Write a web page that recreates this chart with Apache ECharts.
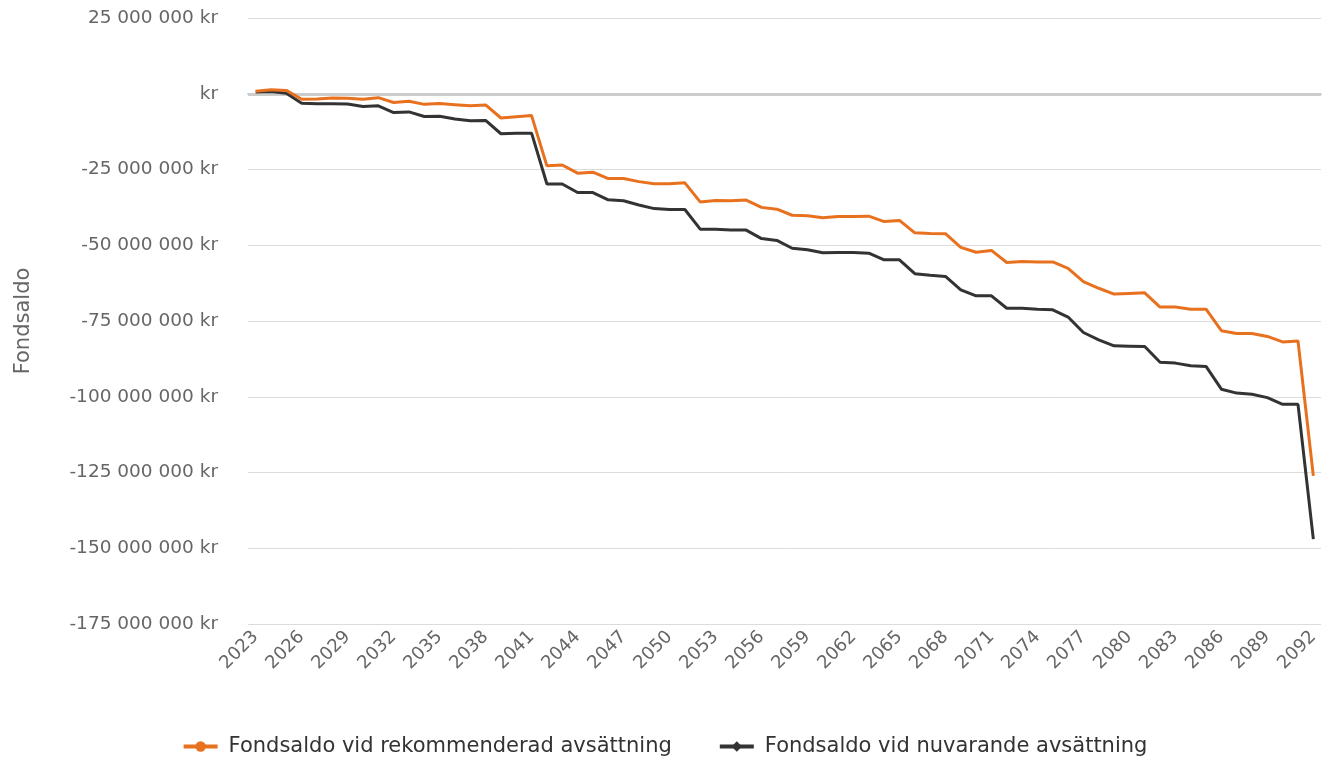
<!DOCTYPE html>
<html>
<head>
<meta charset="utf-8">
<script src="https://cdn.jsdelivr.net/npm/echarts@6/dist/echarts.min.js"></script>
<style>
	html, body { margin: 0; padding: 0; background: #fff; }
	#chart { width: 1329px; height: 760px; }
</style>
</head>
<body>
<div id="chart"></div>
<script>
/* ---------------------------------------------
     Data (values in millions kr)
--------------------------------------------- */
const years = [];
for (let y = 2023; y <= 2092; y += 1) {
	years.push(String(y));
}

const rekommenderad = [
	0.8, 1.3, 1.1, -1.8, -1.7, -1.4, -1.5, -1.8, -1.3, -2.9,
	-2.5, -3.5, -3.2, -3.6, -4.0, -3.7, -8.0, -7.6, -7.2, -23.8,
	-23.5, -26.2, -25.9, -28.0, -28.0, -29.0, -29.7, -29.7, -29.4, -35.7,
	-35.2, -35.3, -35.1, -37.5, -38.1, -40.1, -40.3, -40.9, -40.5, -40.5,
	-40.4, -42.2, -41.8, -45.9, -46.1, -46.2, -50.7, -52.3, -51.7, -55.7,
	-55.4, -55.5, -55.5, -57.6, -62.0, -64.2, -66.1, -65.9, -65.7, -70.4,
	-70.4, -71.1, -71.1, -78.2, -79.1, -79.1, -80.1, -81.9, -81.6, -126.1,
];

const nuvarande = [
	0.55, 0.77, 0.2, -3.1, -3.3, -3.3, -3.4, -4.2, -4.0, -6.2,
	-6.0, -7.5, -7.4, -8.3, -8.9, -8.8, -13.2, -13.0, -13.0, -29.8,
	-29.8, -32.6, -32.6, -35.0, -35.3, -36.7, -37.9, -38.2, -38.2, -44.7,
	-44.7, -45.0, -45.0, -47.8, -48.4, -51.0, -51.5, -52.5, -52.4, -52.4,
	-52.6, -54.8, -54.8, -59.4, -59.9, -60.3, -64.7, -66.7, -66.7, -70.8,
	-70.8, -71.1, -71.3, -73.7, -78.8, -81.2, -83.2, -83.3, -83.4, -88.6,
	-88.9, -89.8, -90.0, -97.5, -98.8, -99.2, -100.3, -102.5, -102.5, -147.0,
];

const seriesNames = ['Fondsaldo vid rekommenderad avsättning', 'Fondsaldo vid nuvarande avsättning'];
const colors = ['#e8711f', '#333333'];

/* ---------------------------------------------
     Helpers
--------------------------------------------- */
function toKr(values) {
	return values.map((v) => Math.round(v * 1000000));
}

function formatKr(value) {
	if (value === 0) {
		return 'kr';
	}
	const sign = value < 0 ? '-' : '';
	const digits = String(Math.abs(value)).replace(/\B(?=(?:\d{3})+(?!\d))/g, ' ');
	return `${sign}${digits} kr`;
}

/* ---------------------------------------------
     Chart
--------------------------------------------- */
const fontFamily = '"DejaVu Sans", Inter, sans-serif';
const chart = echarts.init(document.getElementById('chart'));

chart.setOption({
	animation: false,
	color: colors,
	textStyle: { fontFamily },
	grid: {
		left: 248,
		right: 8,
		top: 18,
		bottom: 136,
		outerBoundsMode: 'none',
	},
	legend: {
		top: 731,
		left: 'center',
		itemGap: 46,
		itemWidth: 34,
		itemHeight: 13,
		lineStyle: { width: 4 },
		textStyle: { fontSize: 21, color: '#333', fontFamily, padding: [0, 0, 0, 6] },
		data: seriesNames,
	},
	xAxis: {
		type: 'category',
		data: years,
		boundaryGap: true,
		axisLine: { lineStyle: { color: '#ccd6eb', width: 2 } },
		axisTick: {
			alignWithLabel: true,
			interval: 2,
			length: 10,
			lineStyle: { color: '#ccd6eb', width: 1.5 },
		},
		axisLabel: {
			interval: 2,
			rotate: 45,
			margin: 10,
			fontSize: 18,
			color: '#666',
		},
		splitLine: { show: false },
	},
	yAxis: {
		type: 'value',
		min: -175000000,
		max: 25000000,
		interval: 25000000,
		name: 'Fondsaldo',
		nameLocation: 'middle',
		nameRotate: 90,
		nameGap: 214,
		nameTextStyle: { fontSize: 21, color: '#666' },
		axisLine: { show: false },
		axisTick: { show: false },
		axisLabel: {
			formatter: formatKr,
			fontSize: 18.5,
			color: '#666',
			margin: 30,
			padding: [4, 0, 0, 0],
		},
		splitLine: { lineStyle: { color: '#dcdcdc', width: 1 } },
	},
	series: [
		{
			name: seriesNames[0],
			type: 'line',
			data: toKr(rekommenderad),
			symbol: 'circle',
			symbolSize: 13,
			showSymbol: false,
			lineStyle: { width: 3 },
			z: 3,
			markLine: {
				silent: true,
				symbol: 'none',
				label: { show: false },
				lineStyle: { color: '#cccccc', width: 3, type: 'solid' },
				data: [{ yAxis: 0 }],
				z: 1,
			},
		},
		{
			name: seriesNames[1],
			type: 'line',
			data: toKr(nuvarande),
			symbol: 'diamond',
			symbolSize: 15,
			showSymbol: false,
			lineStyle: { width: 3 },
			z: 2,
		},
	],
});
</script>
</body>
</html>
